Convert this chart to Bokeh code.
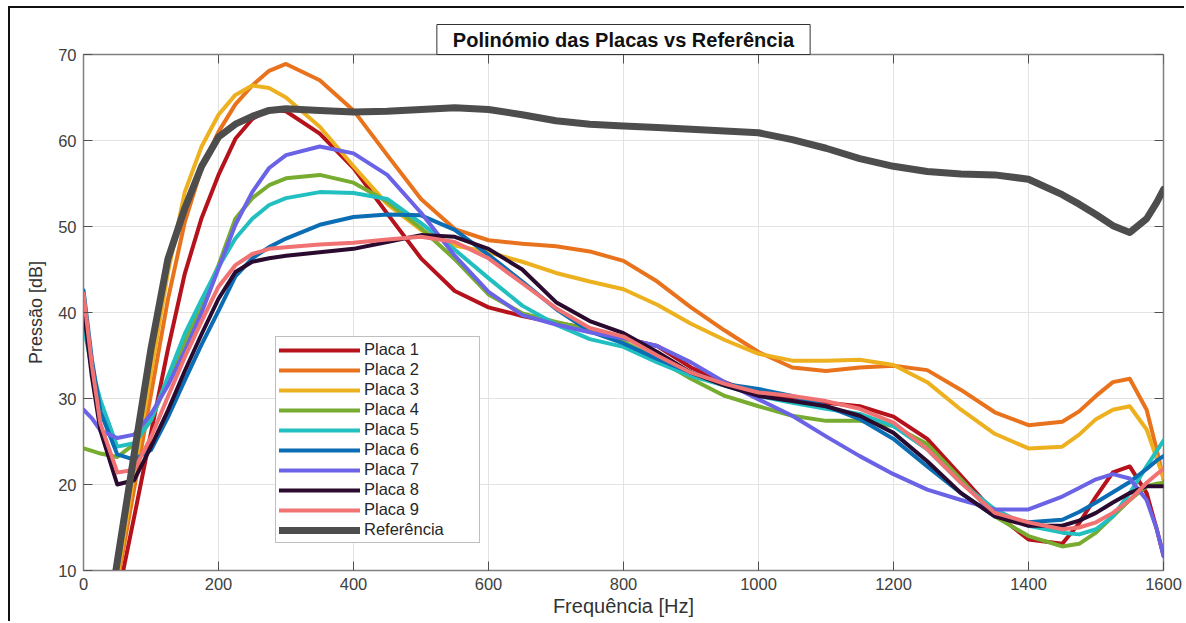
from bokeh.plotting import figure
from bokeh.models import Range1d, Legend, LegendItem, FixedTicker
from bokeh.embed import file_html
from bokeh.resources import INLINE

nan = float("nan")

freq = [0, 12.5, 25, 50, 75, 100, 125, 150, 175, 200, 225, 250, 275, 300,
        350, 400, 450, 500, 550, 600, 650, 700, 750, 800, 850, 900, 950, 1000, 1050, 1100,
        1150, 1200, 1250, 1300, 1350, 1400, 1450,
        1475, 1500, 1525, 1550, 1575, 1590, 1600]

placa1 = [nan, nan, nan, 6.6, 16.2, 26.0, 35.7, 44.5, 51.0, 56.0, 60.2, 62.5, 63.6, 63.4,
          60.8, 56.8, 51.5, 46.3, 42.5, 40.6, 39.6, 38.8, 38.1, 37.0, 36.1, 33.6, 31.9, 30.4, 29.9, 29.5,
          29.1, 27.9, 25.3, 21.0, 16.7, 13.6, 13.1,
          15.5, 18.6, 21.4, 22.1, 19.0, 14.8, 11.7]
placa2 = [nan, nan, nan, 8.5, 19.5, 30.5, 41.5, 50.5, 56.8, 61.0, 64.2, 66.4, 68.1, 68.9,
          67.0, 63.5, 58.3, 53.2, 49.7, 48.4, 48.0, 47.7, 47.1, 46.0, 43.6, 40.6, 37.9, 35.4, 33.6, 33.2,
          33.6, 33.8, 33.3, 31.0, 28.4, 26.9, 27.3,
          28.5, 30.3, 31.9, 32.3, 28.7, 24.0, 20.6]
placa3 = [nan, nan, nan, 9.2, 21.2, 33.0, 44.6, 54.0, 59.3, 63.0, 65.3, 66.4, 66.1, 65.0,
          61.6, 57.0, 52.6, 49.6, 47.8, 47.0, 45.9, 44.6, 43.6, 42.7, 40.9, 38.7, 36.8, 35.2, 34.4, 34.4,
          34.5, 33.9, 31.9, 28.7, 25.9, 24.2, 24.4,
          25.8, 27.6, 28.7, 29.1, 26.4, 23.0, 20.8]
placa4 = [24.2, 23.9, 23.6, 23.2, 24.7, 27.5, 32.0, 36.5, 41.0, 45.5, 50.9, 53.3, 54.8, 55.6,
          56.0, 55.1, 52.9, 49.8, 46.2, 42.1, 39.9, 38.9, 38.0, 36.6, 34.6, 32.3, 30.3, 29.1, 28.0, 27.4,
          27.4, 26.8, 24.7, 20.6, 16.3, 14.0, 12.8,
          13.1, 14.4, 16.3, 18.2, 19.8, 20.1, 20.2]
placa5 = [38.5, 33.5, 29.8, 24.4, 24.8, 27.5, 32.5, 37.5, 41.5, 45.3, 48.6, 50.9, 52.5, 53.3,
          54.0, 53.9, 53.2, 50.4, 47.3, 44.0, 40.8, 38.6, 36.9, 36.0, 34.2, 32.6, 31.5, 30.3, 29.5, 28.8,
          28.2, 26.8, 24.1, 20.2, 17.1, 15.2, 14.4,
          14.2, 14.8, 16.3, 19.0, 22.1, 23.9, 25.1]
placa6 = [42.6, 34.5, 28.5, 23.5, 22.9, 24.0, 27.8, 32.1, 36.3, 40.2, 44.2, 46.3, 47.6, 48.6,
          50.2, 51.1, 51.4, 51.3, 49.6, 46.7, 43.6, 40.4, 37.8, 36.4, 34.6, 33.0, 31.7, 31.1, 30.3, 29.1,
          27.6, 25.3, 22.1, 19.0, 16.3, 15.6, 15.9,
          16.8, 17.9, 19.1, 20.3, 21.8, 22.8, 23.3]
placa7 = [28.7, 27.7, 26.3, 25.4, 25.8, 28.2, 31.5, 35.5, 40.0, 45.1, 50.2, 54.0, 56.8, 58.3,
          59.3, 58.5, 56.0, 51.6, 46.6, 42.4, 39.7, 38.6, 37.7, 37.0, 36.1, 34.2, 31.9, 29.9, 28.0, 25.6,
          23.3, 21.2, 19.4, 18.2, 17.1, 17.1, 18.6,
          19.6, 20.6, 21.2, 20.7, 18.2, 14.8, 11.7]
placa8 = [40.5, 32.5, 26.3, 20.0, 20.5, 24.4, 28.6, 33.2, 37.5, 41.6, 44.7, 45.9, 46.3, 46.6,
          47.0, 47.4, 48.2, 49.0, 48.8, 47.4, 45.0, 41.2, 39.0, 37.6, 35.4, 33.0, 31.5, 30.3, 29.7, 29.1,
          28.0, 26.0, 22.7, 19.0, 16.3, 15.2, 15.2,
          15.8, 16.7, 17.9, 19.0, 19.8, 19.8, 19.8]
placa9 = [42.2, 33.8, 27.1, 21.4, 21.7, 25.5, 30.2, 34.8, 39.0, 43.0, 45.5, 46.8, 47.4, 47.6,
          47.9, 48.1, 48.5, 48.8, 48.2, 46.3, 43.4, 40.5, 38.2, 37.2, 35.0, 33.0, 31.7, 30.7, 30.3, 29.7,
          28.8, 27.2, 24.1, 20.2, 16.7, 15.6, 14.8,
          15.0, 15.6, 16.7, 18.2, 20.2, 21.2, 21.8]
referencia = [nan, nan, -1.5, 11.0, 23.5, 35.8, 46.2, 52.1, 57.0, 60.4, 61.9, 62.8, 63.5, 63.7,
              63.5, 63.3, 63.4, 63.6, 63.8, 63.6, 63.0, 62.3, 61.9, 61.7, 61.5, 61.3, 61.1, 60.9, 60.1, 59.1,
              57.9, 57.0, 56.4, 56.1, 56.0, 55.5, 53.7,
              52.6, 51.4, 50.1, 49.3, 50.9, 52.8, 54.3]

names = ["Placa 1", "Placa 2", "Placa 3", "Placa 4", "Placa 5", "Placa 6", "Placa 7",
         "Placa 8", "Placa 9", "Referência"]
series = [placa1, placa2, placa3, placa4, placa5, placa6, placa7, placa8, placa9, referencia]
for s in series:
    assert len(s) == len(freq)

colors = ["#B5121B", "#E8731C", "#EDB120", "#77AC30", "#22BFC0", "#0B6DB3", "#6B63E6",
          "#2A0A2E", "#F07272", "#4D4D4D"]
widths = [4, 4, 4, 4, 4, 4, 4, 4, 4, 7]

x_ticks = [0, 200, 400, 600, 800, 1000, 1200, 1400, 1600]
y_ticks = [10, 20, 30, 40, 50, 60, 70]

FONT = "Liberation Sans"
X0, X1, Y0, Y1 = 0, 1600, 10, 70
FRAME_W, FRAME_H = 1080, 516
TICK_PX = 9

p = figure(width=1176, height=615, output_backend="svg", toolbar_location=None,
           x_range=Range1d(X0, X1), y_range=Range1d(Y0, Y1),
           min_border_left=73, min_border_right=23, min_border_top=46, min_border_bottom=53)
p.margin = (6, 0, 0, 8)
p.styles = {"border-left": "2px solid #111111", "border-top": "2px solid #111111"}
p.background_fill_color = "white"
p.border_fill_color = "white"
p.outline_line_color = "#808080"
p.outline_line_width = 1.5

# title in a framed box sitting on top of the axes
p.title.text = "Polinómio das Placas vs Referência"
p.title.align = "center"
p.title.text_font = FONT
p.title.text_font_size = "20px"
p.title.text_font_style = "bold"
p.title.text_color = "#111111"
p.title.background_fill_color = "white"
p.title.border_line_color = "#333333"
p.title.border_line_width = 1
p.title.padding = (16, 4)
p.title.standoff = 0
p.title.offset = 0

for ax in (p.xaxis[0], p.yaxis[0]):
    ax.major_tick_in = TICK_PX
    ax.major_tick_out = 0
    ax.minor_tick_in = 0
    ax.minor_tick_out = 0
    ax.axis_line_color = "#808080"
    ax.major_tick_line_color = "#505050"
    ax.major_label_text_font = FONT
    ax.major_label_text_font_size = "16.5px"
    ax.major_label_text_color = "#404040"
    ax.major_label_standoff = 7
    ax.axis_label_text_font = FONT
    ax.axis_label_text_font_style = "normal"
    ax.axis_label_text_color = "#333333"

p.xaxis[0].ticker = FixedTicker(ticks=x_ticks)
p.yaxis[0].ticker = FixedTicker(ticks=y_ticks)
p.xaxis[0].axis_label = "Frequência [Hz]"
p.yaxis[0].axis_label = "Pressão [dB]"
p.xaxis[0].axis_label_text_font_size = "20px"
p.yaxis[0].axis_label_text_font_size = "18px"
p.xaxis[0].axis_label_standoff = 2
p.yaxis[0].axis_label_standoff = 9

p.xgrid[0].ticker = FixedTicker(ticks=x_ticks)
p.ygrid[0].ticker = FixedTicker(ticks=y_ticks)
p.grid.grid_line_color = "#E3E3E3"
p.grid.grid_line_width = 1

# inward ticks on the top and right edges (box on)
dy = TICK_PX * (Y1 - Y0) / FRAME_H
dx = TICK_PX * (X1 - X0) / FRAME_W
p.segment(x0=x_ticks, y0=[Y1] * len(x_ticks), x1=x_ticks, y1=[Y1 - dy] * len(x_ticks),
          line_color="#505050", line_width=1)
p.segment(x0=[X1] * len(y_ticks), y0=y_ticks, x1=[X1 - dx] * len(y_ticks), y1=y_ticks,
          line_color="#505050", line_width=1)

items = []
for name, ys, c, w in zip(names, series, colors, widths):
    r = p.line(freq, ys, line_color=c, line_width=w, line_join="round", line_cap="round")
    items.append(LegendItem(label=name, renderers=[r]))

legend = Legend(items=items, location=(192, 27))
legend.padding = 3
legend.margin = 0
legend.spacing = 1
legend.glyph_width = 81
legend.glyph_height = 18
legend.label_height = 18
legend.label_width = 112
legend.label_standoff = 4
legend.label_text_font = FONT
legend.label_text_font_size = "16.5px"
legend.label_text_color = "#262626"
legend.border_line_color = "#808080"
legend.border_line_width = 1
legend.background_fill_color = "white"
legend.background_fill_alpha = 1
p.add_layout(legend, "center")

open("out.html", "w").write(file_html(p, INLINE))
